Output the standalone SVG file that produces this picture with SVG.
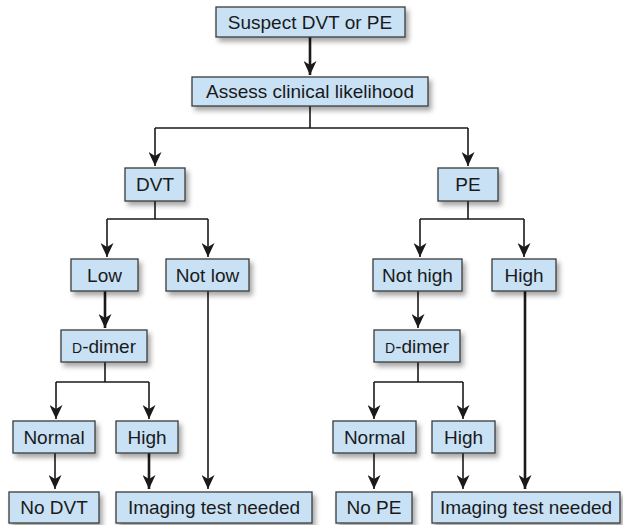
<svg xmlns="http://www.w3.org/2000/svg" width="623" height="525" viewBox="0 0 623 525">
<style>
.box{fill:#c9e1f5;stroke:#3a3a3a;stroke-width:1.3;filter:url(#sh)}
.t{font-family:"Liberation Sans",Arial,sans-serif;font-size:19px;fill:#1a1a1a;text-anchor:middle}
.sc{font-size:14px}
.c{fill:none;stroke:#1a1a1a;stroke-width:1.6}
.a{marker-end:url(#ah)}
.k{stroke-width:2.6}
</style>
<defs>
<filter id="sh" x="-20%" y="-30%" width="150%" height="180%">
<feDropShadow dx="3" dy="4" stdDeviation="2.5" flood-color="#000" flood-opacity="0.35"/>
</filter>
<marker id="ah" markerUnits="userSpaceOnUse" markerWidth="14" markerHeight="13" viewBox="0 0 14 13" refX="14" refY="6.5" orient="auto">
<path d="M0,0 L14,6.5 L0,13 L4,6.5 z" fill="#1a1a1a"/>
</marker>
</defs>
<rect width="623" height="525" fill="#fff"/>
<g id="connectors">
<path class="c k a" d="M310,37 V75"/>
<path class="c" d="M310,106 V128 M155,128 H468"/>
<path class="c a" d="M155,128 V166"/>
<path class="c a" d="M468,128 V166"/>
<path class="c" d="M155,201 V219 M107,219 H208"/>
<path class="c a" d="M107,219 V257"/>
<path class="c a" d="M208,219 V257"/>
<path class="c k a" d="M105,291 V328"/>
<path class="c a" d="M208,291 V489"/>
<path class="c" d="M105,362 V382 M56,382 H149"/>
<path class="c a" d="M56,382 V419"/>
<path class="c a" d="M149,382 V419"/>
<path class="c a" d="M55,453 V489"/>
<path class="c k a" d="M149,453 V489"/>
<path class="c" d="M468,201 V219 M420,219 H524"/>
<path class="c a" d="M420,219 V257"/>
<path class="c a" d="M524,219 V257"/>
<path class="c a" d="M418,291 V328"/>
<path class="c k a" d="M525,291 V489"/>
<path class="c" d="M418,362 V382 M374,382 H463"/>
<path class="c a" d="M374,382 V419"/>
<path class="c a" d="M463,382 V419"/>
<path class="c a" d="M374,453 V489"/>
<path class="c a" d="M463,453 V489"/>
</g>
<g id="suspect"><rect class="box" x="216" y="7" width="189" height="30"/><text class="t" x="310" y="29">Suspect DVT or PE</text></g>
<g id="assess"><rect class="box" x="192" y="77" width="236" height="29"/><text class="t" x="310" y="98">Assess clinical likelihood</text></g>
<g id="dvt"><rect class="box" x="125" y="168" width="60" height="33"/><text class="t" x="155" y="191">DVT</text></g>
<g id="pe"><rect class="box" x="438" y="168" width="60" height="33"/><text class="t" x="468" y="191">PE</text></g>
<g id="low"><rect class="box" x="71" y="259" width="67" height="32"/><text class="t" x="104.5" y="282">Low</text></g>
<g id="notlow"><rect class="box" x="166" y="259" width="83" height="32"/><text class="t" x="207.5" y="282">Not low</text></g>
<g id="nothigh"><rect class="box" x="373" y="259" width="89" height="32"/><text class="t" x="417.5" y="282">Not high</text></g>
<g id="high1"><rect class="box" x="492" y="259" width="64" height="32"/><text class="t" x="524" y="282">High</text></g>
<g id="ddimer1"><rect class="box" x="61" y="330" width="86" height="32"/><text class="t" x="104" y="353"><tspan class="sc">D</tspan>-dimer</text></g>
<g id="ddimer2"><rect class="box" x="374" y="330" width="86" height="32"/><text class="t" x="417" y="353"><tspan class="sc">D</tspan>-dimer</text></g>
<g id="normal1"><rect class="box" x="13" y="421" width="82" height="32"/><text class="t" x="54" y="444">Normal</text></g>
<g id="high2"><rect class="box" x="116" y="421" width="62" height="32"/><text class="t" x="147" y="444">High</text></g>
<g id="normal2"><rect class="box" x="333" y="421" width="83" height="32"/><text class="t" x="374.5" y="444">Normal</text></g>
<g id="high3"><rect class="box" x="432" y="421" width="63" height="32"/><text class="t" x="463.5" y="444">High</text></g>
<g id="nodvt"><rect class="box" x="9" y="492" width="90" height="31"/><text class="t" x="54" y="514">No DVT</text></g>
<g id="imaging1"><rect class="box" x="116" y="492" width="196" height="31"/><text class="t" x="214" y="514">Imaging test needed</text></g>
<g id="nope"><rect class="box" x="336" y="492" width="76" height="31"/><text class="t" x="374" y="514">No PE</text></g>
<g id="imaging2"><rect class="box" x="432" y="492" width="188" height="31"/><text class="t" x="526" y="514">Imaging test needed</text></g>
</svg>
